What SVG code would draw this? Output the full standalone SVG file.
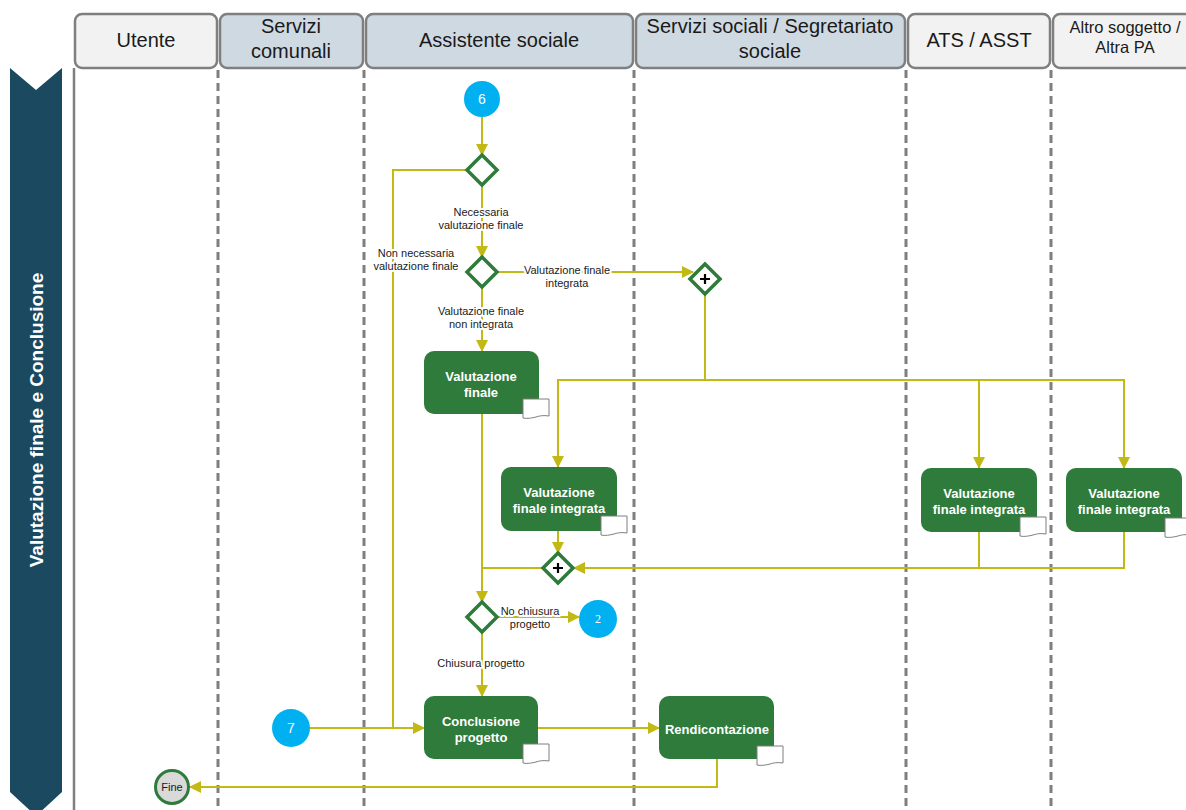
<svg xmlns="http://www.w3.org/2000/svg" width="1186" height="810" viewBox="0 0 1186 810">
<style>
.hdr{stroke:#7f7f7f;stroke-width:2.5}
.hl{fill:#f2f2f2}
.hb{fill:#cfd9e2}
.ht{font-family:"Liberation Sans",Arial,sans-serif;font-size:20px;fill:#1a1a1a;text-anchor:middle}
.hs{font-size:16.5px}
.sep{stroke:#7f7f7f;stroke-width:3;stroke-dasharray:8 5;fill:none}
.task{fill:#2e7b3b}
.tt{font-family:"Liberation Sans",Arial,sans-serif;font-size:13px;font-weight:bold;fill:#fff;text-anchor:middle}
.doc{fill:#fff;stroke:#7f7f7f;stroke-width:1}
.gw{fill:#fff;stroke:#2e7b3b;stroke-width:3.5}
.plus{stroke:#000;stroke-width:2.2}
.con{fill:none;stroke:#c3b914;stroke-width:2}
.lbl{font-family:"Liberation Sans",Arial,sans-serif;font-size:11px;fill:#1a1a1a;text-anchor:middle;stroke:#fff;stroke-width:4;paint-order:stroke;stroke-linejoin:round}
.ev{fill:#00b0f0}
.evt{font-family:"Liberation Sans",Arial,sans-serif;font-size:14px;fill:#fff;text-anchor:middle}
</style>
<defs>
<marker id="arr" markerUnits="userSpaceOnUse" markerWidth="12" markerHeight="12" viewBox="0 0 12 12" refX="11" refY="6" orient="auto">
<path d="M0,0 L12,6 L0,12 Z" fill="#c3b914"/>
</marker>
<path id="docp" d="M0,0 H26 V17 C20,16 16,17 13,18 C9,19 4,20 0,19 Z"/>
</defs>
<rect width="1186" height="810" fill="#fff"/>

<g id="banner">
<path d="M10,68 L36,90 L62,68 L62,792 L36,816 L10,792 Z" fill="#1b4a60"/>
<text transform="translate(43,420) rotate(-90)" font-family="Liberation Sans,Arial,sans-serif" font-size="19" font-weight="bold" fill="#fff" text-anchor="middle">Valutazione finale e Conclusione</text>
</g>

<g id="headers">
<rect class="hdr hl" x="75" y="14" width="142" height="54" rx="7"/>
<text class="ht" x="146" y="47">Utente</text>
<rect class="hdr hb" x="220" y="14" width="143" height="54" rx="7"/>
<text class="ht" x="291" y="33">Servizi</text>
<text class="ht" x="291" y="58">comunali</text>
<rect class="hdr hb" x="366" y="14" width="267" height="54" rx="7"/>
<text class="ht" x="499" y="47">Assistente sociale</text>
<rect class="hdr hb" x="636" y="14" width="269" height="54" rx="7"/>
<text class="ht" x="770" y="33">Servizi sociali / Segretariato</text>
<text class="ht" x="770" y="58">sociale</text>
<rect class="hdr hl" x="908" y="14" width="142" height="54" rx="7"/>
<text class="ht" x="979" y="47">ATS / ASST</text>
<rect class="hdr hl" x="1053" y="14" width="150" height="54" rx="7"/>
<text class="ht hs" x="1125" y="33">Altro soggetto /</text>
<text class="ht hs" x="1125" y="53">Altra PA</text>
</g>

<g id="lanes">
<line x1="74" y1="68" x2="74" y2="810" stroke="#7f7f7f" stroke-width="2.5"/>
<line class="sep" x1="218" y1="70" x2="218" y2="810"/>
<line class="sep" x1="364" y1="70" x2="364" y2="810"/>
<line class="sep" x1="634" y1="70" x2="634" y2="810"/>
<line class="sep" x1="906" y1="70" x2="906" y2="810"/>
<line class="sep" x1="1051" y1="70" x2="1051" y2="810"/>
</g>

<g id="connectors">
<path class="con" d="M482,117 V155" marker-end="url(#arr)"/>
<path class="con" d="M482,185 V257" marker-end="url(#arr)"/>
<path class="con" d="M482,287 V351" marker-end="url(#arr)"/>
<path class="con" d="M497,272 H693" marker-end="url(#arr)"/>
<path class="con" d="M705,294 V380 H558 V467" marker-end="url(#arr)"/>
<path class="con" d="M705,380 H1124 V468" marker-end="url(#arr)"/>
<path class="con" d="M979,380 V468" marker-end="url(#arr)"/>
<path class="con" d="M482,414 V602" marker-end="url(#arr)"/>
<path class="con" d="M558,531 V553" marker-end="url(#arr)"/>
<path class="con" d="M1124,532 V568 H574" marker-end="url(#arr)"/>
<path class="con" d="M979,532 V568"/>
<path class="con" d="M543,568 H482"/>
<path class="con" d="M497,617 H579" marker-end="url(#arr)"/>
<path class="con" d="M482,632 V696" marker-end="url(#arr)"/>
<path class="con" d="M310,728 H424" marker-end="url(#arr)"/>
<path class="con" d="M467,170 H393 V728"/>
<path class="con" d="M538,728 H659" marker-end="url(#arr)"/>
<path class="con" d="M717,759 V787 H190" marker-end="url(#arr)"/>
<text class="lbl" x="481" y="216">Necessaria</text>
<text class="lbl" x="481" y="229">valutazione finale</text>
<text class="lbl" x="416" y="257">Non necessaria</text>
<text class="lbl" x="416" y="270">valutazione finale</text>
<text class="lbl" x="567" y="274">Valutazione finale</text>
<text class="lbl" x="567" y="287">integrata</text>
<text class="lbl" x="481" y="315">Valutazione finale</text>
<text class="lbl" x="481" y="328">non integrata</text>
<text class="lbl" x="530" y="615">No chiusura</text>
<text class="lbl" x="530" y="628">progetto</text>
<text class="lbl" x="481" y="667">Chiusura progetto</text>
</g>

<g id="start6">
<circle class="ev" cx="482" cy="99" r="18"/>
<text class="evt" x="482" y="104">6</text>
</g>
<g id="gw1"><path class="gw" d="M482,155 L497,170 L482,185 L467,170 Z"/></g>
<g id="gw2"><path class="gw" d="M482,257 L497,272 L482,287 L467,272 Z"/></g>
<g id="pgw1"><path class="gw" d="M705,264 L720,279 L705,294 L690,279 Z"/><path class="plus" d="M700,279 H710 M705,274 V284"/></g>

<g id="task-vf">
<rect class="task" x="424" y="351" width="115" height="63" rx="10"/>
<text class="tt" x="481" y="381">Valutazione</text>
<text class="tt" x="481" y="397">finale</text>
<use href="#docp" class="doc" x="523" y="399"/>
</g>
<g id="task-vfi-as">
<rect class="task" x="501" y="467" width="116" height="64" rx="10"/>
<text class="tt" x="559" y="497">Valutazione</text>
<text class="tt" x="559" y="513">finale integrata</text>
<use href="#docp" class="doc" x="601" y="516"/>
</g>
<g id="task-vfi-ats">
<rect class="task" x="921" y="468" width="116" height="64" rx="10"/>
<text class="tt" x="979" y="498">Valutazione</text>
<text class="tt" x="979" y="514">finale integrata</text>
<use href="#docp" class="doc" x="1020" y="517"/>
</g>
<g id="task-vfi-altro">
<rect class="task" x="1066" y="468" width="116" height="64" rx="10"/>
<text class="tt" x="1124" y="498">Valutazione</text>
<text class="tt" x="1124" y="514">finale integrata</text>
<use href="#docp" class="doc" x="1165" y="518"/>
</g>
<g id="pgw2"><path class="gw" d="M558,553 L573,568 L558,583 L543,568 Z"/><path class="plus" d="M553,568 H563 M558,563 V573"/></g>
<g id="gw3"><path class="gw" d="M482,602 L497,617 L482,632 L467,617 Z"/></g>
<g id="ev2">
<circle class="ev" cx="598" cy="619" r="19"/>
<text class="evt" x="598" y="623" style="font-size:12px;font-family:'Liberation Serif',serif">2</text>
</g>
<g id="ev7">
<circle class="ev" cx="291" cy="728" r="19"/>
<text class="evt" x="291" y="733">7</text>
</g>
<g id="task-conclusione">
<rect class="task" x="424" y="696" width="114" height="63" rx="10"/>
<text class="tt" x="481" y="726">Conclusione</text>
<text class="tt" x="481" y="742">progetto</text>
<use href="#docp" class="doc" x="523" y="744"/>
</g>
<g id="task-rendicontazione">
<rect class="task" x="659" y="696" width="115" height="63" rx="10"/>
<text class="tt" x="717" y="734">Rendicontazione</text>
<use href="#docp" class="doc" x="757" y="746"/>
</g>
<g id="fine">
<circle cx="172" cy="787" r="16.5" fill="#d9d9d9" stroke="#2e7b3b" stroke-width="3"/>
<text x="172" y="791" font-family="Liberation Sans,Arial,sans-serif" font-size="11" fill="#1a1a1a" text-anchor="middle">Fine</text>
</g>
</svg>
